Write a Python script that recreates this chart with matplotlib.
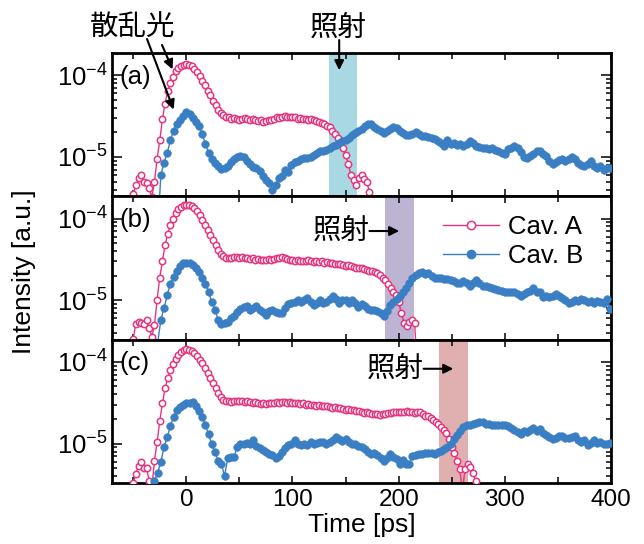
import numpy as np
import matplotlib
matplotlib.use('Agg')
import matplotlib.pyplot as plt
from matplotlib.ticker import LogLocator, NullFormatter, MultipleLocator, FixedLocator, FixedFormatter
from matplotlib.lines import Line2D

plt.rcParams['font.family'] = ['Liberation Sans', 'DejaVu Sans']
plt.rcParams['mathtext.fontset'] = 'custom'
plt.rcParams['mathtext.rm'] = 'Liberation Sans'
plt.rcParams['mathtext.it'] = 'Liberation Sans:italic'
plt.rcParams['mathtext.bf'] = 'Liberation Sans:bold'

# ---------------- data ----------------
# Cav. A sampled every 2.5 ps from -50 ps; Cav. B every 3 ps from -30 ps
T0_A, DT_A = -50.0, 2.5
T0_B, DT_B = -30.0, 3.0

cavA_a = [
    3.5e-6, 4.5e-6, 5.5e-6, 6.0e-6, 5.0e-6, 4.8e-6, 4.2e-6, 3.2e-6, 5.0e-6, 9.5e-6,
    1.6e-5, 2.9e-5, 4.5e-5, 6.4e-5, 8.0e-5, 9.6e-5, 1.12e-4, 1.22e-4, 1.3e-4, 1.34e-4,
    1.36e-4, 1.34e-4, 1.28e-4, 1.2e-4, 1.1e-4, 9.8e-5, 8.6e-5, 7.6e-5, 6.5e-5, 5.7e-5,
    4.9e-5, 4.3e-5, 3.8e-5, 3.45e-5, 3.25e-5, 3.1e-5, 3.05e-5, 2.9e-5, 3.0e-5, 2.95e-5,
    2.85e-5, 2.95e-5, 3.0e-5, 2.9e-5, 2.85e-5, 2.9e-5, 2.8e-5, 2.75e-5, 2.8e-5, 2.7e-5,
    2.75e-5, 2.8e-5, 2.85e-5, 2.95e-5, 3.05e-5, 3.0e-5, 3.1e-5, 3.15e-5, 3.05e-5, 3.1e-5,
    3.05e-5, 3.1e-5, 2.95e-5, 3.0e-5, 2.9e-5, 2.95e-5, 2.85e-5, 2.9e-5, 2.8e-5, 2.75e-5,
    2.7e-5, 2.6e-5, 2.55e-5, 2.4e-5, 2.3e-5, 2.1e-5, 1.9e-5, 1.7e-5, 1.5e-5, 1.3e-5,
    1.05e-5, 8.3e-6, 6.0e-6, 5.3e-6, 4.6e-6, 5.6e-6, 6.0e-6, 5.4e-6, 5.0e-6, 3.7e-6,
]
cavB_a = [
    1.0e-6, 1.2e-6, 6.0e-6, 8.5e-6, 1.12e-5, 1.6e-5, 2.1e-5, 2.5e-5, 2.85e-5, 3.2e-5,
    3.55e-5, 3.4e-5, 3.0e-5, 2.7e-5, 2.4e-5, 1.9e-5, 1.45e-5, 1.12e-5, 9.4e-6, 8.5e-6,
    7.8e-6, 7.1e-6, 7.3e-6, 7.7e-6, 8.7e-6, 9.4e-6, 1.0e-5, 1.03e-5, 9.9e-6, 8.9e-6,
    8.1e-6, 7.5e-6, 7.3e-6, 6.7e-6, 5.9e-6, 5.3e-6, 4.8e-6, 4.0e-6, 4.5e-6, 5.6e-6,
    5.8e-6, 6.9e-6, 6.6e-6, 8.0e-6, 8.6e-6, 8.9e-6, 9.4e-6, 9.8e-6, 9.6e-6, 1.0e-5,
    1.05e-5, 1.12e-5, 1.17e-5, 1.19e-5, 1.22e-5, 1.28e-5, 1.36e-5, 1.42e-5, 1.5e-5, 1.58e-5,
    1.62e-5, 1.72e-5, 1.85e-5, 1.98e-5, 2.1e-5, 2.2e-5, 2.4e-5, 2.55e-5, 2.5e-5, 2.35e-5,
    2.2e-5, 2.1e-5, 1.95e-5, 2.1e-5, 2.2e-5, 2.3e-5, 2.25e-5, 2.1e-5, 1.95e-5, 1.85e-5,
    1.85e-5, 1.92e-5, 2.0e-5, 1.92e-5, 1.82e-5, 1.82e-5, 1.75e-5, 1.7e-5, 1.68e-5, 1.58e-5,
    1.5e-5, 1.38e-5, 1.62e-5, 1.45e-5, 1.5e-5, 1.42e-5, 1.44e-5, 1.37e-5, 1.45e-5, 1.55e-5,
    1.47e-5, 1.38e-5, 1.32e-5, 1.3e-5, 1.3e-5, 1.26e-5, 1.27e-5, 1.22e-5, 1.17e-5, 1.12e-5,
    1.1e-5, 1.24e-5, 1.3e-5, 1.35e-5, 1.27e-5, 1.14e-5, 1.0e-5, 9.6e-6, 1.03e-5, 1.08e-5,
    1.18e-5, 1.19e-5, 1.1e-5, 1.02e-5, 9.0e-6, 8.2e-6, 8.6e-6, 9.3e-6, 9.4e-6, 8.9e-6,
    9.5e-6, 1.0e-5, 9.5e-6, 8.4e-6, 8.0e-6, 7.7e-6, 8.1e-6, 9.0e-6, 7.8e-6, 7.3e-6,
    7.7e-6, 7.0e-6, 7.4e-6, 7.3e-6,
]
cavA_b = [
    3.4e-6, 5.2e-6, 5.4e-6, 5.3e-6, 5.1e-6, 5.8e-6, 4.6e-6, 3.6e-6, 5.0e-6, 1.02e-5,
    1.9e-5, 3.0e-5, 4.8e-5, 6.5e-5, 8.4e-5, 1.0e-4, 1.17e-4, 1.31e-4, 1.4e-4, 1.46e-4,
    1.48e-4, 1.47e-4, 1.41e-4, 1.33e-4, 1.22e-4, 1.1e-4, 9.7e-5, 8.3e-5, 7.2e-5, 6.3e-5,
    5.4e-5, 4.7e-5, 4.1e-5, 3.7e-5, 3.45e-5, 3.3e-5, 3.25e-5, 3.3e-5, 3.35e-5, 3.4e-5,
    3.3e-5, 3.35e-5, 3.25e-5, 3.3e-5, 3.2e-5, 3.25e-5, 3.15e-5, 3.2e-5, 3.1e-5, 3.15e-5,
    3.1e-5, 3.2e-5, 3.15e-5, 3.2e-5, 3.25e-5, 3.3e-5, 3.35e-5, 3.25e-5, 3.2e-5, 3.15e-5,
    3.1e-5, 3.05e-5, 3.1e-5, 3.0e-5, 3.05e-5, 3.0e-5, 3.1e-5, 3.0e-5, 2.95e-5, 3.0e-5,
    2.95e-5, 3.0e-5, 2.9e-5, 2.95e-5, 2.85e-5, 2.9e-5, 2.8e-5, 2.75e-5, 2.8e-5, 2.7e-5,
    2.65e-5, 2.7e-5, 2.6e-5, 2.55e-5, 2.5e-5, 2.45e-5, 2.5e-5, 2.4e-5, 2.35e-5, 2.3e-5,
    2.3e-5, 2.25e-5, 2.15e-5, 2.05e-5, 1.9e-5, 1.75e-5, 1.58e-5, 1.42e-5, 1.28e-5, 1.15e-5,
    9.5e-6, 7.0e-6, 5.3e-6, 4.9e-6, 5.4e-6, 5.8e-6, 5.3e-6, 1.5e-6,
]
cavB_b = [
    1.2e-6, 3.0e-6, 5.8e-6, 8.0e-6, 1.15e-5, 1.6e-5, 1.95e-5, 2.3e-5, 2.6e-5, 2.85e-5,
    2.9e-5, 2.87e-5, 2.7e-5, 2.5e-5, 2.2e-5, 1.9e-5, 1.6e-5, 1.25e-5, 9.5e-6, 7.6e-6,
    5.8e-6, 5.2e-6, 5.3e-6, 5.5e-6, 6.0e-6, 6.4e-6, 7.2e-6, 7.8e-6, 8.3e-6, 8.4e-6,
    7.6e-6, 8.0e-6, 8.6e-6, 7.6e-6, 7.1e-6, 6.7e-6, 7.3e-6, 7.7e-6, 7.2e-6, 7.0e-6,
    7.0e-6, 8.0e-6, 9.0e-6, 9.2e-6, 9.5e-6, 1.0e-5, 9.5e-6, 1.02e-5, 1.08e-5, 9.6e-6,
    8.8e-6, 9.2e-6, 1.02e-5, 9.2e-6, 9.6e-6, 1.03e-5, 1.12e-5, 1.03e-5, 9.4e-6, 1.02e-5,
    1.0e-5, 9.4e-6, 1.0e-5, 9.2e-6, 8.3e-6, 9.0e-6, 8.5e-6, 7.9e-6, 7.7e-6, 7.6e-6,
    7.4e-6, 7.0e-6, 6.5e-6, 7.3e-6, 8.8e-6, 9.6e-6, 1.03e-5, 1.13e-5, 1.25e-5, 1.42e-5,
    1.63e-5, 1.85e-5, 2.05e-5, 2.15e-5, 2.2e-5, 2.1e-5, 2.15e-5, 2.0e-5, 1.9e-5, 1.85e-5,
    1.86e-5, 1.84e-5, 1.8e-5, 1.75e-5, 1.7e-5, 1.63e-5, 1.63e-5, 1.7e-5, 1.63e-5, 1.5e-5,
    1.63e-5, 1.75e-5, 1.63e-5, 1.5e-5, 1.5e-5, 1.45e-5, 1.4e-5, 1.37e-5, 1.32e-5, 1.3e-5,
    1.27e-5, 1.26e-5, 1.26e-5, 1.25e-5, 1.18e-5, 1.14e-5, 1.2e-5, 1.25e-5, 1.3e-5, 1.42e-5,
    1.25e-5, 1.25e-5, 1.09e-5, 1.14e-5, 1.09e-5, 1.14e-5, 1.2e-5, 1.14e-5, 1.06e-5, 1.0e-5,
    9.4e-6, 9.6e-6, 1.0e-5, 9.7e-6, 1.04e-5, 1.0e-5, 9.5e-6, 9.7e-6, 9.3e-6, 9.7e-6,
    9.6e-6, 9.4e-6, 1.03e-5, 7.8e-6,
]
cavA_c = [
    3.3e-6, 4.3e-6, 5.4e-6, 6.0e-6, 5.0e-6, 5.0e-6, 3.5e-6, 2.8e-6, 6.2e-6, 1.05e-5,
    1.9e-5, 3.1e-5, 4.8e-5, 6.3e-5, 7.9e-5, 9.5e-5, 1.09e-4, 1.22e-4, 1.32e-4, 1.39e-4,
    1.43e-4, 1.41e-4, 1.36e-4, 1.27e-4, 1.17e-4, 1.06e-4, 9.6e-5, 8.5e-5, 7.4e-5, 6.4e-5,
    5.5e-5, 4.8e-5, 4.2e-5, 3.7e-5, 3.45e-5, 3.3e-5, 3.3e-5, 3.25e-5, 3.35e-5, 3.3e-5,
    3.3e-5, 3.35e-5, 3.25e-5, 3.3e-5, 3.2e-5, 3.15e-5, 3.2e-5, 3.1e-5, 3.05e-5, 3.1e-5,
    3.05e-5, 3.1e-5, 3.15e-5, 3.1e-5, 3.2e-5, 3.15e-5, 3.2e-5, 3.25e-5, 3.15e-5, 3.2e-5,
    3.1e-5, 3.15e-5, 3.1e-5, 3.05e-5, 3.1e-5, 3.0e-5, 3.05e-5, 2.95e-5, 3.0e-5, 2.9e-5,
    2.95e-5, 2.9e-5, 2.85e-5, 2.9e-5, 2.8e-5, 2.75e-5, 2.8e-5, 2.7e-5, 2.72e-5, 2.65e-5,
    2.6e-5, 2.62e-5, 2.55e-5, 2.58e-5, 2.5e-5, 2.48e-5, 2.45e-5, 2.4e-5, 2.42e-5, 2.38e-5,
    2.32e-5, 2.3e-5, 2.28e-5, 2.25e-5, 2.3e-5, 2.32e-5, 2.35e-5, 2.4e-5, 2.42e-5, 2.45e-5,
    2.45e-5, 2.47e-5, 2.45e-5, 2.48e-5, 2.45e-5, 2.42e-5, 2.4e-5, 2.45e-5, 2.42e-5, 2.3e-5,
    2.2e-5, 2.15e-5, 2.08e-5, 1.97e-5, 1.86e-5, 1.72e-5, 1.6e-5, 1.47e-5, 1.35e-5, 1.15e-5,
    9.0e-6, 7.6e-6, 6.2e-6, 4.9e-6, 2.6e-6, 4.9e-6, 5.6e-6, 5.2e-6, 4.4e-6, 3.5e-6,
]
cavB_c = [
    3.5e-6, 4.4e-6, 6.0e-6, 9.0e-6, 1.19e-5, 1.65e-5, 2.1e-5, 2.55e-5, 2.82e-5, 3.0e-5,
    3.1e-5, 3.1e-5, 3.25e-5, 2.9e-5, 2.5e-5, 2.1e-5, 1.68e-5, 1.3e-5, 9.8e-6, 7.9e-6,
    6.2e-6, 5.7e-6, 4.0e-6, 6.6e-6, 6.8e-6, 6.9e-6, 9.0e-6, 9.8e-6, 9.9e-6, 1.03e-5,
    1.0e-5, 1.12e-5, 9.4e-6, 8.9e-6, 8.4e-6, 7.8e-6, 7.5e-6, 7.2e-6, 6.7e-6, 7.0e-6,
    8.0e-6, 8.8e-6, 9.7e-6, 9.8e-6, 1.12e-5, 9.8e-6, 9.6e-6, 1.0e-5, 9.6e-6, 1.05e-5,
    1.0e-5, 1.03e-5, 1.05e-5, 1.06e-5, 1.0e-5, 1.04e-5, 1.12e-5, 1.2e-5, 1.13e-5, 1.08e-5,
    1.13e-5, 1.06e-5, 1.0e-5, 1.0e-5, 9.4e-6, 9.2e-6, 8.6e-6, 7.9e-6, 7.5e-6, 7.6e-6,
    7.2e-6, 6.7e-6, 6.1e-6, 6.6e-6, 7.5e-6, 6.8e-6, 6.4e-6, 5.7e-6, 6.3e-6, 5.6e-6,
    5.7e-6, 7.0e-6, 7.2e-6, 7.4e-6, 7.5e-6, 7.6e-6, 7.7e-6, 7.6e-6, 7.5e-6, 8.0e-6,
    8.1e-6, 8.5e-6, 9.0e-6, 1.0e-5, 1.14e-5, 1.28e-5, 1.43e-5, 1.58e-5, 1.68e-5, 1.7e-5,
    1.75e-5, 1.8e-5, 1.86e-5, 1.82e-5, 1.72e-5, 1.76e-5, 1.7e-5, 1.7e-5, 1.67e-5, 1.7e-5,
    1.7e-5, 1.65e-5, 1.55e-5, 1.46e-5, 1.4e-5, 1.33e-5, 1.43e-5, 1.37e-5, 1.46e-5, 1.55e-5,
    1.42e-5, 1.5e-5, 1.36e-5, 1.27e-5, 1.22e-5, 1.15e-5, 1.17e-5, 1.23e-5, 1.23e-5, 1.17e-5,
    1.16e-5, 1.2e-5, 1.25e-5, 1.1e-5, 1.04e-5, 1.1e-5, 9.7e-6, 1.03e-5, 1.1e-5, 1.03e-5,
    1.06e-5, 1.0e-5, 9.8e-6, 1.03e-5,
]

panel_labels = ['(a)', '(b)', '(c)']
irradiation_windows = [(134, 161), (187, 214), (238, 265)]
arrow_targets = [144, 200.5, 251.5]
series_labels = ['Cav. A', 'Cav. B']
xtick_values = [0, 100, 200, 300, 400]
ytick_values = [1e-5, 1e-4]
ytick_labels = [r'$\mathregular{10^{-5}}$', r'$\mathregular{10^{-4}}$']
scatter_label = '散乱光'
irradiation_label = '照射'
xlabel = 'Time [ps]'
ylabel = 'Intensity [a.u.]'

# ---------------- styling ----------------
PINK = '#e8357f'
BLUE = '#3a7ec3'
BAND_COLORS = ['#a8d8e2', '#bdb4d4', '#e0b0b0']
CJK = ['Noto Sans CJK JP', 'DejaVu Sans']
XLIM = (-70, 400)
YLIM = (3.3e-6, 1.87e-4)

fig = plt.figure(figsize=(6.44, 5.44), dpi=100)
left, right = 112 / 644, 611 / 644
bottom, top = 1 - 483 / 544, 1 - 53 / 544
h = (top - bottom) / 3

pairs = [(cavA_a, cavB_a), (cavA_b, cavB_b), (cavA_c, cavB_c)]
axes = []
for i, (ya, yb) in enumerate(pairs):
    ax = fig.add_axes([left, top - (i + 1) * h, right - left, h])
    axes.append(ax)
    ta = T0_A + DT_A * np.arange(len(ya))
    tb = T0_B + DT_B * np.arange(len(yb))
    w0, w1 = irradiation_windows[i]
    ax.axvspan(w0, w1, color=BAND_COLORS[i], lw=0, zorder=0)
    ax.plot(ta, ya, '-', color=PINK, lw=1.0, zorder=2)
    ax.plot(ta, ya, 'o', ms=4.6, mfc='white', mec=PINK, mew=1.1, zorder=3)
    ax.plot(tb, yb, '-', color=BLUE, lw=1.0, zorder=4)
    ax.plot(tb, yb, 'o', ms=5.6, mfc=BLUE, mec=BLUE, mew=0.3, zorder=5)
    ax.set_yscale('log')
    ax.set_xlim(*XLIM)
    ax.set_ylim(*YLIM)
    ax.yaxis.set_major_locator(FixedLocator(ytick_values))
    ax.yaxis.set_major_formatter(FixedFormatter(ytick_labels))
    ax.yaxis.set_minor_locator(LogLocator(base=10, subs=np.arange(2, 10)))
    ax.yaxis.set_minor_formatter(NullFormatter())
    ax.xaxis.set_major_locator(FixedLocator(xtick_values))
    ax.xaxis.set_minor_locator(MultipleLocator(50))
    ax.tick_params(which='both', direction='in', top=True, right=True, width=1.1,
                   labelsize=17.5, pad=4)
    ax.tick_params(axis='y', which='major', length=7, labelsize=18.5, pad=3)
    ax.tick_params(axis='y', which='minor', length=3.5)
    ax.tick_params(axis='x', which='major', length=5)
    ax.tick_params(axis='x', which='minor', length=4)
    for s in ax.spines.values():
        s.set_linewidth(2.0)
    if i < 2:
        ax.tick_params(axis='x', labelbottom=False)
    ax.text(0.014, 0.835, panel_labels[i], transform=ax.transAxes, fontsize=18.5,
            ha='left', va='center', zorder=6)

axes[2].set_xlabel(xlabel, fontsize=19, labelpad=2)
fig.text(0.038, 0.50, ylabel, rotation=90, fontsize=19, ha='center', va='center')

# legend in panel (b)
handles = [Line2D([], [], color=PINK, lw=1.0, marker='o', ms=6, mfc='white', mec=PINK, mew=1.1),
           Line2D([], [], color=BLUE, lw=1.0, marker='o', ms=6, mfc=BLUE, mec=BLUE)]
axes[1].legend(handles, series_labels, loc='upper left', bbox_to_anchor=(0.663, 0.87),
               frameon=False, borderpad=0, borderaxespad=0, handlelength=2.2,
               handletextpad=0.35, labelspacing=0.2, fontsize=18.5)

# annotations
arrow_kw = dict(arrowstyle='-|>', color='black', lw=1.5, mutation_scale=14, shrinkA=0, shrinkB=0)
fig.text(133 / 644, 1 - 27 / 544, scatter_label, family=CJK, fontsize=20.5,
         ha='center', va='center')
axA = axes[0]
axA.annotate('', xy=(-13, 1.18e-4), xycoords='data',
             xytext=(162 / 644, 1 - 45 / 544), textcoords='figure fraction',
             arrowprops=arrow_kw, annotation_clip=False)
axA.annotate('', xy=(-12, 3.8e-5), xycoords='data',
             xytext=(147 / 644, 1 - 39 / 544), textcoords='figure fraction',
             arrowprops=arrow_kw, annotation_clip=False)

# irradiation markers
fig.text(338 / 644, 1 - 28 / 544, irradiation_label, family=CJK, fontsize=20.5,
         ha='center', va='center')
axA.annotate('', xy=(arrow_targets[0], 0.88), xycoords=('data', 'axes fraction'),
             xytext=(arrow_targets[0], 1.09), textcoords=('data', 'axes fraction'),
             arrowprops=arrow_kw, annotation_clip=False)
for i, yfrac in ((1, 0.758), (2, 0.797)):
    ax = axes[i]
    ax.annotate('', xy=(arrow_targets[i], yfrac), xycoords=('data', 'axes fraction'),
                xytext=(arrow_targets[i] - 28, yfrac), textcoords=('data', 'axes fraction'),
                arrowprops=arrow_kw, annotation_clip=False)
    ax.text(arrow_targets[i] - 28, yfrac, irradiation_label, family=CJK, fontsize=20.5,
            ha='right', va='center', transform=ax.get_xaxis_transform())

fig.savefig('out.png', dpi=100)
